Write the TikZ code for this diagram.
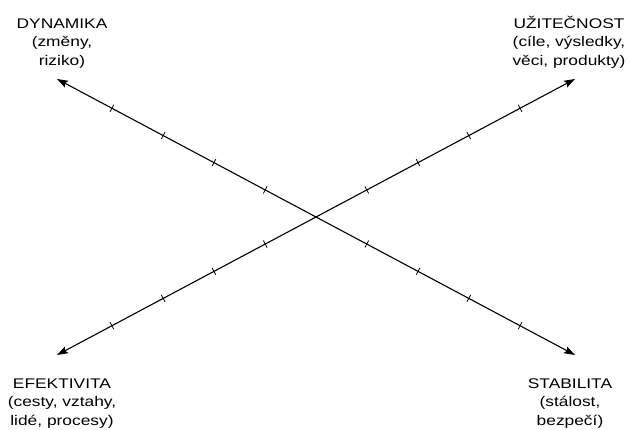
\documentclass[tikz,border=0pt]{standalone}
\usepackage{fontspec}
\setmainfont{Liberation Sans}[FakeStretch=1.24]
\usetikzlibrary{arrows.meta,decorations.markings}
\begin{document}
\begin{tikzpicture}[x=1pt,y=-1pt,
  tickmark/.style={-,line width=0.8pt},
  axisline/.style={line width=1.1pt,{Stealth[length=11pt,width=7.5pt,inset=2pt]}-{Stealth[length=11pt,width=7.5pt,inset=2pt]},
    postaction={decorate},
    decoration={markings,
      mark=at position 0.106 with {\draw[tickmark] (0,-4pt) -- (0,4pt);},
      mark=at position 0.205 with {\draw[tickmark] (0,-4pt) -- (0,4pt);},
      mark=at position 0.303 with {\draw[tickmark] (0,-4pt) -- (0,4pt);},
      mark=at position 0.402 with {\draw[tickmark] (0,-4pt) -- (0,4pt);},
      mark=at position 0.598 with {\draw[tickmark] (0,-4pt) -- (0,4pt);},
      mark=at position 0.697 with {\draw[tickmark] (0,-4pt) -- (0,4pt);},
      mark=at position 0.795 with {\draw[tickmark] (0,-4pt) -- (0,4pt);},
      mark=at position 0.894 with {\draw[tickmark] (0,-4pt) -- (0,4pt);}}},
  lbl/.style={align=center,inner sep=0pt,anchor=north,font=\fontsize{14pt}{18.5pt}\selectfont}]
\useasboundingbox[fill=white] (0,0) rectangle (630,430);
\coordinate (tl) at (57,79);
\coordinate (br) at (575,355);
\coordinate (bl) at (57,355);
\coordinate (tr) at (575,79);
\draw[axisline] (tl) -- (br);
\draw[axisline] (bl) -- (tr);
\node[lbl] (dyn) at (62,15) {\rule{0pt}{13pt}DYNAMIKA\\(změny,\\riziko)};
\node[lbl] (uzi) at (569,15) {\rule{0pt}{13pt}UŽITEČNOST\\(cíle, výsledky,\\věci, produkty)};
\node[lbl] (efe) at (62,375) {\rule{0pt}{13pt}EFEKTIVITA\\(cesty, vztahy,\\lidé, procesy)};
\node[lbl] (sta) at (570,375) {\rule{0pt}{13pt}STABILITA\\(stálost,\\bezpečí)};
\end{tikzpicture}
\end{document}
